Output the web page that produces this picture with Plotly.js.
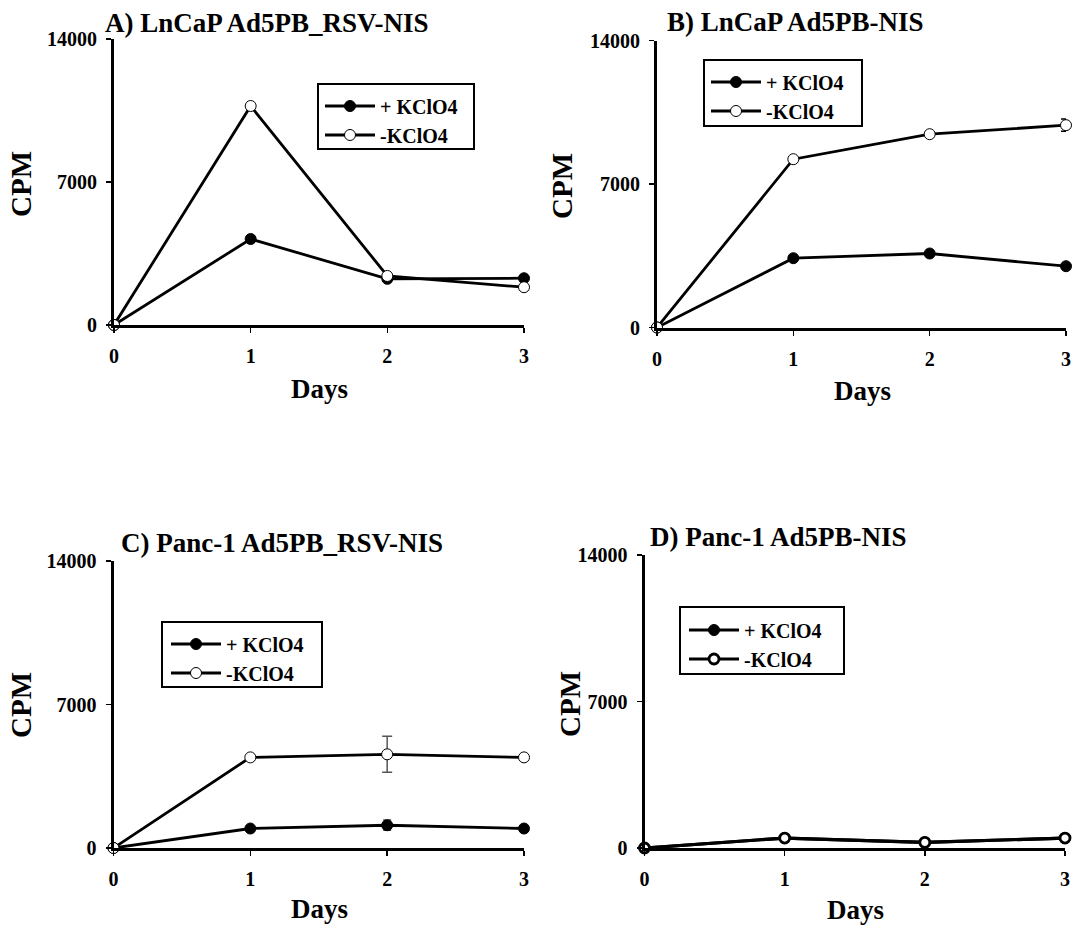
<!DOCTYPE html>
<html>
<head>
<meta charset="utf-8">
<script src="https://cdn.plot.ly/plotly-3.0.1.min.js"></script>
<style>
  html, body { margin: 0; padding: 0; background: #ffffff; }
  #chart { width: 1077px; height: 929px; }
</style>
</head>
<body>
<div id="chart"></div>
<script>
// ---------- data ----------
const days = [0, 1, 2, 3];
const dayTicks = ['0', '1', '2', '3'];
const cpmTicks = [0, 7000, 14000];
const seriesNames = ['+ KClO4', '-KClO4'];

const panelTitles = [
  'A) LnCaP Ad5PB_RSV-NIS',
  'B) LnCaP Ad5PB-NIS',
  'C) Panc-1 Ad5PB_RSV-NIS',
  'D) Panc-1 Ad5PB-NIS'
];

const aPlus  = [0, 4210, 2260, 2290];
const aMinus = [0, 10720, 2400, 1850];

const bPlus  = [0, 3380, 3610, 2990];
const bMinus = [0, 8210, 9430, 9870];
const bMinusErr = [0, 0, 0, 300];

const cPlus  = [0, 950, 1110, 950];
const cPlusErr = [0, 0, 250, 0];
const cMinus = [0, 4420, 4570, 4420];
const cMinusErr = [0, 0, 880, 0];

const dPlus  = [0, 476, 270, 476];
const dMinus = [0, 476, 270, 476];

// ---------- layout helpers ----------
const W = 1077, H = 929;
const px = v => v / W;
const py = v => 1 - v / H;
const FONT = 'Liberation Serif, Times New Roman, serif';
const LEG_FONT = 20;

// plot areas in pixels: [left, right, top, bottom]
const areas = [
  [114, 524, 39, 325],
  [657, 1066, 40.5, 327.5],
  [113.5, 524, 561, 848],
  [644.5, 1065, 555, 848]
];
// legend boxes [left, right, top, bottom], first row centre, line start
const legendBoxes = [
  [318, 474, 84, 149, 105, 325],
  [704, 862, 60, 126, 81, 711],
  [162, 322, 622, 687, 643, 171],
  [680, 844, 607, 674, 629, 689]
];
const titlePos = [[103, 23], [665, 22], [119, 543], [648, 537]];
const cpmPos = [[21, 184], [562, 186], [21, 705], [570, 704]];
const daysPos = [[319, 389], [862, 391], [319, 909], [855, 910]];

const panels = [
  {plus: aPlus, minus: aMinus, plusErr: null, minusErr: null, errColor: '#000'},
  {plus: bPlus, minus: bMinus, plusErr: null, minusErr: bMinusErr, errColor: '#000'},
  {plus: cPlus, minus: cMinus, plusErr: cPlusErr, minusErr: cMinusErr, errColor: '#555'},
  {plus: dPlus, minus: dMinus, plusErr: null, minusErr: null, errColor: '#000', heavy: true}
];

const traces = [];
const layout = {
  width: W, height: H,
  margin: {l: 0, r: 0, t: 0, b: 0},
  paper_bgcolor: '#ffffff',
  plot_bgcolor: 'rgba(0,0,0,0)',
  showlegend: true,
  font: {family: FONT, color: '#000'},
  annotations: [],
  shapes: []
};

panels.forEach((p, i) => {
  const n = i === 0 ? '' : String(i + 1);
  const xa = 'x' + n, ya = 'y' + n;
  const legendId = 'legend' + n;
  const lw = p.heavy ? 3.2 : 2.8;

  traces.push({
    x: days, y: p.plus, xaxis: xa, yaxis: ya,
    type: 'scatter', mode: 'lines+markers', name: seriesNames[0],
    legend: legendId, cliponaxis: false,
    line: {color: '#000', width: lw},
    marker: {symbol: 'circle', size: 11, color: '#000', line: {color: '#000', width: 1}},
    error_y: p.plusErr ? {type: 'data', array: p.plusErr, visible: true, color: p.errColor, thickness: 1.5, width: 4} : {visible: false}
  });
  traces.push({
    x: days, y: p.minus, xaxis: xa, yaxis: ya,
    type: 'scatter', mode: 'lines+markers', name: seriesNames[1],
    legend: legendId, cliponaxis: false,
    line: {color: '#000', width: lw},
    marker: {symbol: 'circle', size: p.heavy ? 10 : 11, color: '#fff',
             line: {color: '#000', width: p.heavy ? 2.8 : 1}},
    error_y: p.minusErr ? {type: 'data', array: p.minusErr, visible: true, color: p.errColor, thickness: 1.5, width: 5} : {visible: false}
  });

  const a = areas[i];
  const tickFont = {family: FONT, size: 20, weight: 'bold', color: '#000'};
  layout['xaxis' + n] = {
    domain: [px(a[0]), px(a[1])], anchor: ya,
    range: [0, 3], tickvals: days, ticktext: dayTicks,
    ticks: 'outside', ticklen: 5, tickwidth: 1.5, tickcolor: '#000',
    showline: true, linewidth: 3, linecolor: '#000',
    showgrid: false, zeroline: false, fixedrange: true,
    tickfont: tickFont, ticklabelstandoff: 6
  };
  layout['yaxis' + n] = {
    domain: [py(a[3]), py(a[2])], anchor: xa,
    range: [0, 14000], tickvals: cpmTicks, ticktext: cpmTicks.map(String),
    ticks: 'outside', ticklen: 5, tickwidth: 1.5, tickcolor: '#000',
    showline: true, linewidth: 3, linecolor: '#000',
    showgrid: false, zeroline: false, fixedrange: true,
    tickfont: tickFont, ticklabelstandoff: 5
  };

  const lb = legendBoxes[i];
  const mid = lb[4] + 12.5;
  layout[legendId] = {
    x: px(lb[5] - 5), y: py(mid - (5 + LEG_FONT * 1.3)), xanchor: 'left', yanchor: 'top',
    xref: 'paper', yref: 'paper',
    bgcolor: 'rgba(0,0,0,0)', borderwidth: 0,
    itemwidth: 50,
    font: {family: FONT, size: LEG_FONT, weight: 'bold', color: '#000'},
    traceorder: 'normal'
  };
  layout.shapes.push({
    type: 'rect', xref: 'paper', yref: 'paper',
    x0: px(lb[0]), x1: px(lb[1]), y0: py(lb[3]), y1: py(lb[2]),
    line: {color: '#000', width: 2}, fillcolor: 'rgba(0,0,0,0)', layer: 'below'
  });

  layout.annotations.push({
    text: panelTitles[i], xref: 'paper', yref: 'paper',
    x: px(titlePos[i][0]), y: py(titlePos[i][1]), xanchor: 'left', yanchor: 'middle',
    showarrow: false, font: {family: FONT, size: 27, weight: 'bold', color: '#000'}
  });
  layout.annotations.push({
    text: 'CPM', xref: 'paper', yref: 'paper', textangle: -90,
    x: px(cpmPos[i][0]), y: py(cpmPos[i][1]), xanchor: 'center', yanchor: 'middle',
    showarrow: false, font: {family: FONT, size: 29, weight: 'bold', color: '#000'}
  });
  layout.annotations.push({
    text: 'Days', xref: 'paper', yref: 'paper',
    x: px(daysPos[i][0]), y: py(daysPos[i][1]), xanchor: 'center', yanchor: 'middle',
    showarrow: false, font: {family: FONT, size: 27, weight: 'bold', color: '#000'}
  });
});

Plotly.newPlot('chart', traces, layout, {staticPlot: true, displayModeBar: false});
</script>
</body>
</html>
